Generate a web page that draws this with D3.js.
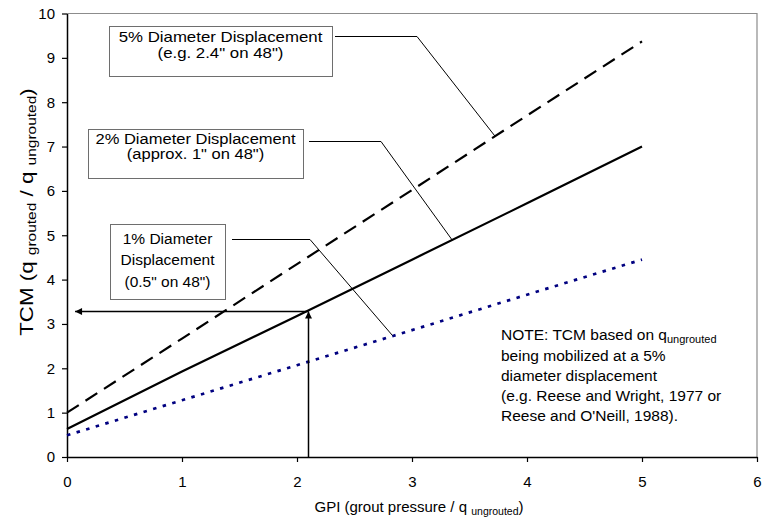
<!DOCTYPE html>
<html><head><meta charset="utf-8">
<script src="https://cdn.jsdelivr.net/npm/d3@7"></script>
<style>
html,body{margin:0;padding:0;background:#fff;}
text{font-family:"Liberation Sans",Arial,sans-serif;fill:#000;}
</style></head>
<body><svg id="chart" width="772" height="522"></svg>
<script>
// ---- data ----
const gpi = [0, 1, 2, 3, 4, 5];
const tcm5pct = [1.0, 2.67, 4.35, 6.02, 7.7, 9.37];
const tcm2pct = [0.63, 1.93, 3.18, 4.45, 5.72, 7.0];
const tcm1pct = [0.49, 1.28, 2.07, 2.86, 3.66, 4.45];
const xTicks = [0, 1, 2, 3, 4, 5, 6];
const yTicks = [0, 1, 2, 3, 4, 5, 6, 7, 8, 9, 10];
const exampleGpi = 2.1;
const exampleTcm = 3.28;
const box5Lines = ["5% Diameter Displacement", "(e.g. 2.4\" on 48\")"];
const box2Lines = ["2% Diameter Displacement", "(approx. 1\" on 48\")"];
const box1Lines = ["1% Diameter", "Displacement", "(0.5\" on 48\")"];
const noteLines = ["being mobilized at a 5%", "diameter displacement", "(e.g. Reese and Wright, 1977 or", "Reese and O'Neill, 1988)."];

const svg = d3.select("#chart");
const FONT = '"Liberation Sans",Arial,sans-serif';
const x = d3.scaleLinear().domain([0, 6]).range([67, 757]);
const y = d3.scaleLinear().domain([0, 10]).range([457, 13.5]);

svg.append("defs").append("marker")
  .attr("id", "arr").attr("viewBox", "0 0 10 10").attr("refX", 10).attr("refY", 5)
  .attr("markerWidth", 9).attr("markerHeight", 7).attr("markerUnits", "userSpaceOnUse")
  .attr("orient", "auto")
  .append("path").attr("d", "M0,0 L10,5 L0,10 Z").attr("fill", "#000");

// frame top/right
svg.append("path")
  .attr("d", `M${x(0)},${y(10)} H${x(6)} V${y(0)}`)
  .attr("fill", "none").attr("stroke", "#8c8c8c").attr("stroke-width", 1.2);

// axes
const gx = svg.append("g").attr("transform", `translate(0,${y(0)})`)
  .call(d3.axisBottom(x).tickValues(xTicks).tickFormat(d3.format("d")).tickSizeInner(5).tickSizeOuter(0).tickPadding(14));
const gy = svg.append("g").attr("transform", `translate(${x(0)},0)`)
  .call(d3.axisLeft(y).tickValues(yTicks).tickFormat(d3.format("d")).tickSizeInner(5).tickSizeOuter(0).tickPadding(7));
[gx, gy].forEach(g => {
  g.select(".domain").attr("stroke", "#000").attr("stroke-width", 1.5);
  g.selectAll(".tick line").attr("stroke", "#000").attr("stroke-width", 1.2);
  g.selectAll(".tick text").style("font-size", "15px").style("font-family", FONT);
});

// series
const line = d3.line().x((d, i) => x(gpi[i])).y(d => y(d));
svg.append("path").datum(tcm5pct).attr("d", line).attr("fill", "none")
  .attr("stroke", "#000").attr("stroke-width", 2.2).attr("stroke-dasharray", "14,8");
svg.append("path").datum(tcm2pct).attr("d", line).attr("fill", "none")
  .attr("stroke", "#000").attr("stroke-width", 2.2);
svg.append("path").datum(tcm1pct).attr("d", line).attr("fill", "none")
  .attr("stroke", "#000080").attr("stroke-width", 2.7).attr("stroke-dasharray", "3.5,6.5");

// example arrows
svg.append("line").attr("x1", x(exampleGpi)).attr("y1", y(0)).attr("x2", x(exampleGpi)).attr("y2", y(exampleTcm))
  .attr("stroke", "#000").attr("stroke-width", 1.5).attr("marker-end", "url(#arr)");
svg.append("line").attr("x1", x(exampleGpi)).attr("y1", y(exampleTcm)).attr("x2", x(0.07)).attr("y2", y(exampleTcm))
  .attr("stroke", "#000").attr("stroke-width", 1.5).attr("marker-end", "url(#arr)");

// annotation boxes
function box(x0, y0, w, h, lines, lh, firstBase, fs, sx) {
  svg.append("rect").attr("x", x0 + 0.5).attr("y", y0 + 0.5).attr("width", w).attr("height", h)
    .attr("fill", "#fff").attr("stroke", "#6e6e6e").attr("stroke-width", 1);
  lines.forEach((t, i) => {
    svg.append("text")
      .attr("transform", `translate(${x0 + w / 2},${firstBase + i * lh}) scale(${sx},1)`)
      .attr("text-anchor", "middle").style("font-size", fs + "px").text(t);
  });
}
box(109, 26, 223, 50, box5Lines, 15.6, 42, 14.5, 1.16);
box(88, 129, 215, 49, box2Lines, 15, 144, 14.5, 1.14);
box(110, 224, 115, 75, box1Lines, 21.3, 244, 15.5, 1);

// leader lines
function leader(pts) {
  svg.append("polyline").attr("points", pts.map(p => p.join(",")).join(" "))
    .attr("fill", "none").attr("stroke", "#000").attr("stroke-width", 1);
}
leader([[335, 36.5], [417, 36.5], [x(3.72), y(7.24)]]);
leader([[309, 141.5], [381, 141.5], [x(3.35), y(4.89)]]);
leader([[232, 239.5], [310, 239.5], [x(2.83), y(2.74)]]);

// note
const note = svg.append("text").attr("x", 501).attr("y", 339.5).style("font-size", "15.5px");
note.append("tspan").text("NOTE: TCM based on q");
note.append("tspan").attr("dy", 3).style("font-size", "11px").text("ungrouted");
noteLines.forEach((t, i) => {
  svg.append("text").attr("x", 501).attr("y", 360.5 + i * 20.3).style("font-size", "15.5px").text(t);
});

// axis titles
const xt = svg.append("text").attr("x", 419).attr("y", 512).attr("text-anchor", "middle").style("font-size", "15px");
xt.append("tspan").text("GPI (grout pressure / q ");
xt.append("tspan").attr("dy", 3).style("font-size", "10.5px").text("ungrouted");
xt.append("tspan").attr("dy", -3).text(")");

const yt = svg.append("text").attr("transform", "translate(33,212) rotate(-90) scale(1.24,1)")
  .attr("text-anchor", "middle").style("font-size", "18px");
yt.append("tspan").text("TCM (q ");
yt.append("tspan").attr("dy", 3).style("font-size", "12.5px").text("grouted");
yt.append("tspan").attr("dy", -3).text(" / q ");
yt.append("tspan").attr("dy", 3).style("font-size", "12.5px").text("ungrouted");
yt.append("tspan").attr("dy", -3).text(")");
</script></body></html>
